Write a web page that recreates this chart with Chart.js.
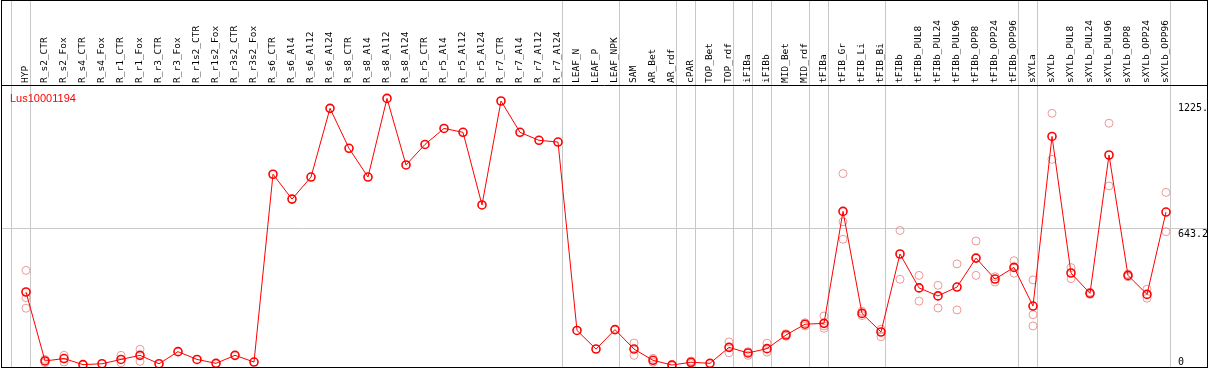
<!DOCTYPE html>
<html>
<head>
<meta charset="utf-8">
<script src="https://cdn.jsdelivr.net/npm/chart.js@4.4.1/dist/chart.umd.min.js"></script>
<style>
  html, body { margin: 0; padding: 0; background: #fff; }
  #wrap { width: 1209px; height: 370px; }
</style>
</head>
<body>
<div id="wrap"><canvas id="chart" width="1209" height="370"></canvas></div>
<script>
const geneName = 'Lus10001194';

const categories = [
  'HYP', 'R_s2_CTR', 'R_s2_Fox', 'R_s4_CTR', 'R_s4_Fox', 'R_r1_CTR', 'R_r1_Fox', 'R_r3_CTR', 'R_r3_Fox',
  'R_r1s2_CTR', 'R_r1s2_Fox', 'R_r3s2_CTR', 'R_r3s2_Fox',
  'R_s6_CTR', 'R_s6_Al4', 'R_s6_Al12', 'R_s6_Al24', 'R_s8_CTR', 'R_s8_Al4', 'R_s8_Al12', 'R_s8_Al24',
  'R_r5_CTR', 'R_r5_Al4', 'R_r5_Al12', 'R_r5_Al24', 'R_r7_CTR', 'R_r7_Al4', 'R_r7_Al12', 'R_r7_Al24',
  'LEAF_N', 'LEAF_P', 'LEAF_NPK', 'SAM', 'AR_Bet', 'AR_rdf', 'cPAR', 'TOP_Bet', 'TOP_rdf',
  'iFIBa', 'iFIBb', 'MID_Bet', 'MID_rdf', 'tFIBa', 'tFIB_Gr', 'tFIB_Li', 'tFIB_Bi',
  'tFIBb', 'tFIBb_PUL8', 'tFIBb_PUL24', 'tFIBb_PUL96', 'tFIBb_OPP8', 'tFIBb_OPP24', 'tFIBb_OPP96',
  'sXYLa', 'sXYLb', 'sXYLb_PUL8', 'sXYLb_PUL24', 'sXYLb_PUL96', 'sXYLb_OPP8', 'sXYLb_OPP24', 'sXYLb_OPP96'
];

// mean expression per sample
const meanValues = [
  347, 28, 39, 11, 15, 35, 54, 15, 71,
  35, 17, 54, 23,
  892, 777, 879, 1197, 1012, 879, 1243, 935,
  1030, 1104, 1086, 750, 1231, 1086, 1049, 1041,
  169, 83, 173, 83, 31, 9, 22, 17, 91,
  65, 85, 148, 198, 202, 720, 248, 162,
  523, 366, 329, 370, 504, 407, 461,
  282, 1067, 435, 341, 981, 424, 336, 717
];

// replicates (null where none shown)
const repA = [
  447, 35, 54, null, null, 54, 82, null, null,
  null, null, null, null,
  null, null, null, null, null, null, null, null,
  null, null, null, null, null, null, null, null,
  null, null, null, 111, 40, 12, 28, null, 116,
  71, 110, 154, 205, 236, 895, 258, 140,
  632, 424, 378, 477, 583, 418, 492,
  403, 1174, 460, 346, 1128, 430, 360, 808
];
const repB = [
  321, 20, 23, null, null, 20, 26, null, null,
  null, null, null, null,
  null, null, null, null, null, null, null, null,
  null, null, null, null, null, null, null, null,
  null, null, null, 54, 22, 5, 16, null, 66,
  54, 69, 142, 190, 179, 672, 238, 175,
  406, 305, 273, 264, 424, 393, 434,
  242, 961, 409, 336, 838, 418, 318, 626
];
const repC = [
  272, null, null, null, null, null, null, null, null,
  null, null, null, null,
  null, null, null, null, null, null, null, null,
  null, null, null, null, null, null, null, null,
  null, null, null, null, null, null, null, null, null,
  null, null, null, null, 190, 591, null, null,
  null, null, null, null, null, null, null,
  190, null, null, null, null, null, null, null
];

// last sample index of each group (-1 = left edge)
const groupEnds = [-1, 0, 28, 31, 34, 35, 37, 38, 39, 41, 42, 45, 52, 53, 60];

const yTicks = [0, 643.2, 1225];
const yTickLabels = ['0', '643.2', '1225.'];

const toPoints = arr => arr.map((v, i) => ({ x: i, y: v })).filter(p => p.y !== null);

const MONO = '"DejaVu Sans Mono", monospace';

const framePlugin = {
  id: 'frame',
  beforeDraw(chart) {
    const { ctx } = chart;
    const xs = chart.scales.x;
    ctx.save();
    ctx.fillStyle = '#fff';
    ctx.fillRect(0, 0, chart.width, chart.height);
    ctx.strokeStyle = '#c8c8c8';
    ctx.lineWidth = 1;
    groupEnds.forEach(i => {
      const px = Math.round(xs.getPixelForValue(i) + 4) + 0.5;
      ctx.beginPath();
      ctx.moveTo(px, 0);
      ctx.lineTo(px, chart.chartArea.bottom);
      ctx.stroke();
    });
    ctx.restore();
  },
  afterDraw(chart) {
    const { ctx, chartArea } = chart;
    const ys = chart.scales.y;
    ctx.save();
    ctx.font = '10px ' + MONO;
    ctx.fillStyle = '#000';
    ctx.textAlign = 'left';
    yTicks.forEach((v, i) => {
      const py = ys.getPixelForValue(v);
      if (v === 0) {
        ctx.textBaseline = 'bottom';
        ctx.fillText(yTickLabels[i], 1178, py);
      } else {
        ctx.textBaseline = 'top';
        ctx.fillText(yTickLabels[i], 1178, py + 1);
      }
    });
    ctx.font = '11px "Liberation Sans", Arial, sans-serif';
    ctx.fillStyle = '#ff0000';
    ctx.textBaseline = 'top';
    ctx.fillText(geneName, 10, chartArea.top + 8);
    ctx.strokeStyle = '#000';
    ctx.lineWidth = 1;
    ctx.strokeRect(1.5, 0.5, chart.width - 3, chartArea.bottom);
    ctx.restore();
  }
};

const repStyle = {
  showLine: false,
  pointRadius: 4,
  pointBorderWidth: 1,
  pointBorderColor: 'rgba(232, 120, 120, 0.75)',
  pointBackgroundColor: 'rgba(0,0,0,0)',
  order: 2
};

new Chart(document.getElementById('chart'), {
  type: 'line',
  data: {
    datasets: [
      {
        label: geneName,
        data: toPoints(meanValues),
        borderColor: '#ff0000',
        borderWidth: 1,
        tension: 0,
        pointRadius: 4,
        pointBorderWidth: 1.6,
        pointBorderColor: '#ff0000',
        pointBackgroundColor: 'rgba(0,0,0,0)',
        order: 0
      },
      { label: 'rep1', data: toPoints(repA), ...repStyle },
      { label: 'rep2', data: toPoints(repB), ...repStyle },
      { label: 'rep3', data: toPoints(repC), ...repStyle }
    ]
  },
  options: {
    responsive: false,
    animation: false,
    events: [],
    layout: { autoPadding: false, padding: { left: 1, right: 2, top: 0, bottom: 3 } },
    plugins: { legend: { display: false }, tooltip: { enabled: false } },
    scales: {
      x: {
        type: 'linear',
        position: 'top',
        min: -25 / 19,
        max: -25 / 19 + 1206 / 19,
        afterBuildTicks: scale => { scale.ticks = categories.map((_, i) => ({ value: i })); },
        afterFit: scale => {
          scale.height = 85;
          scale.paddingLeft = 0;
          scale.paddingRight = 0;
        },
        ticks: {
          autoSkip: false,
          minRotation: 90,
          maxRotation: 90,
          padding: 2,
          labelOffset: 11,
          color: '#000',
          font: { family: MONO, size: 9.5 },
          callback: v => categories[v]
        },
        grid: { display: false, drawTicks: false },
        border: { display: true, color: '#000', width: 1 }
      },
      y: {
        position: 'right',
        min: 0,
        max: 1305,
        afterBuildTicks: scale => { scale.ticks = yTicks.map(v => ({ value: v })); },
        afterFit: scale => { scale.width = 0; },
        ticks: { display: false },
        grid: {
          drawTicks: false,
          color: ctx => (ctx.tick && ctx.tick.value === 643.2 ? '#c8c8c8' : 'rgba(0,0,0,0)')
        },
        border: { display: false }
      }
    }
  },
  plugins: [framePlugin]
});
</script>
</body>
</html>
